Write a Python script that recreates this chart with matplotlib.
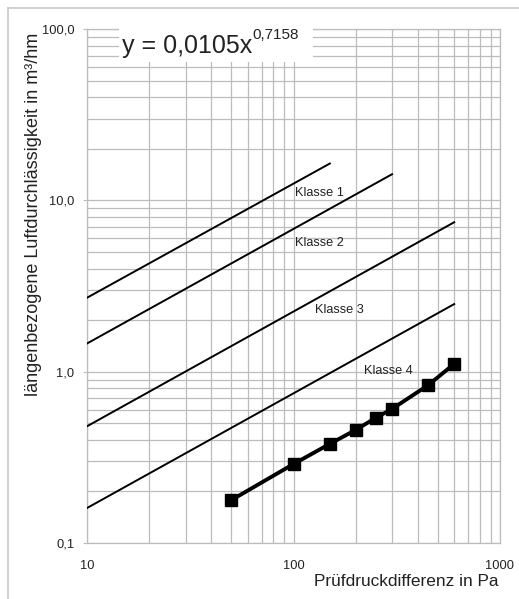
import numpy as np
import matplotlib
matplotlib.use("Agg")
import matplotlib.pyplot as plt
from matplotlib.ticker import LogLocator, NullFormatter
from matplotlib.patches import Rectangle
from matplotlib.lines import Line2D

plt.rcParams['font.family'] = ['Liberation Sans', 'DejaVu Sans']

# Messwerte: Prüfdruck (Pa) und Luftdurchlässigkeit (m³/hm)
druck = [50, 100, 150, 200, 250, 300, 450, 600]
durchlass = [0.178, 0.289, 0.379, 0.457, 0.537, 0.606, 0.836, 1.11]

# Klassengrenzen (Anfangs- und Endpunkt je Klasse)
klassen = ["Klasse 1", "Klasse 2", "Klasse 3", "Klasse 4"]
klassen_p = [[10, 150], [10, 300], [10, 600], [10, 600]]
klassen_q = [[2.7, 16.4], [1.46, 14.2], [0.48, 7.45], [0.16, 2.48]]
label_pos = [(134, 11.0), (134, 5.64), (166, 2.29), (287, 1.01)]

y_ticks = [0.1, 1, 10, 100]
y_ticklabels = ["0,1", "1,0", "10,0", "100,0"]
x_ticks = [10, 100, 1000]
x_ticklabels = ["10", "100", "1000"]

gridcol = "#bcbcbc"
textcol = "#222222"

fig = plt.figure(figsize=(5.19, 5.99), dpi=100)
ax = fig.add_axes([87/519, 56/599, 413/519, 514/599])
ax.set_xscale("log")
ax.set_yscale("log")
ax.set_xlim(10, 1000)
ax.set_ylim(0.1, 100)

ax.xaxis.set_minor_locator(LogLocator(base=10, subs=np.arange(2, 10)))
ax.yaxis.set_minor_locator(LogLocator(base=10, subs=np.arange(2, 10)))
ax.xaxis.set_minor_formatter(NullFormatter())
ax.yaxis.set_minor_formatter(NullFormatter())
ax.set_xticks(x_ticks)
ax.set_xticklabels(x_ticklabels)
ax.set_yticks(y_ticks)
ax.set_yticklabels(y_ticklabels)
ax.tick_params(axis="x", which="major", length=0, pad=12, labelsize=9.3, labelcolor=textcol)
ax.tick_params(axis="y", which="major", length=3, width=0.8, color=gridcol, pad=6,
               labelsize=9.3, labelcolor=textcol)
ax.tick_params(which="minor", length=0)
ax.grid(True, which="both", color=gridcol, linewidth=0.9)
ax.set_axisbelow(True)
for s in ax.spines.values():
    s.set_color(gridcol)
    s.set_linewidth(0.9)

for name, p, q, pos in zip(klassen, klassen_p, klassen_q, label_pos):
    ax.plot(p, q, color="black", linewidth=1.4, zorder=3)
    ax.text(pos[0], pos[1], name, ha="center", va="center", fontsize=9.2, color=textcol, zorder=4)

ax.plot(druck, durchlass, color="black", linewidth=2.8, marker="s", markersize=8.5, zorder=5)

# weißer Hintergrund für die Gleichung
fig.add_artist(Rectangle((119/519, 1-62/599), 194/519, 42/599, transform=fig.transFigure,
                         facecolor="white", edgecolor="none", zorder=2))
eq = fig.text(122/519, 1-53/599, "y = 0,0105x", fontsize=18, color=textcol,
              ha="left", va="baseline", zorder=3)
fig.canvas.draw()
bb = eq.get_window_extent().transformed(fig.transFigure.inverted())
fig.text(bb.x1, 1-39/599, "0,7158", fontsize=11, color=textcol,
         ha="left", va="baseline", zorder=3)

# Achsenbeschriftungen
fig.text(498/519, 1-582/599, "Prüfdruckdifferenz in Pa", fontsize=12.4, color=textcol,
         ha="right", va="center")
fig.text(34/519, 1-214/599, "längenbezogene Luftdurchlässigkeit in m³/hm", fontsize=13,
         color=textcol, rotation=90, ha="center", va="center")

# Rahmen oben und links
fig.add_artist(Line2D([8/519, 1], [1-8/599, 1-8/599], transform=fig.transFigure,
                      color="#c8c8c8", linewidth=1.2))
fig.add_artist(Line2D([8/519, 8/519], [0, 1-8/599], transform=fig.transFigure,
                      color="#c8c8c8", linewidth=1.2))

fig.savefig("out.png", dpi=100)
